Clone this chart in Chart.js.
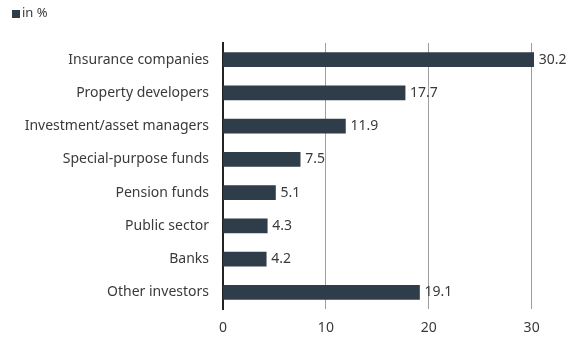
<!DOCTYPE html>
<html>
<head>
<meta charset="utf-8">
<script src="https://cdn.jsdelivr.net/npm/chart.js@4"></script>
<style>
  html, body { margin: 0; padding: 0; background: #fff; }
  #wrap { width: 570px; height: 339px; position: relative; }
</style>
</head>
<body>
<div id="wrap"><canvas id="chart"></canvas></div>
<script>
const categories = [
  "Insurance companies",
  "Property developers",
  "Investment/asset managers",
  "Special-purpose funds",
  "Pension funds",
  "Public sector",
  "Banks",
  "Other investors"
];
const shares = [30.2, 17.7, 11.9, 7.5, 5.1, 4.3, 4.2, 19.1];
const xTicks = [0, 10, 20, 30];
const seriesLabel = "in %";

const FONT = "'Noto Sans', sans-serif";
const BAR = "#2e3d49";
const TEXT = "#3a3a3a";

// value labels at the end of each bar
const valueLabels = {
  id: "valueLabels",
  afterDatasetsDraw(chart) {
    const { ctx } = chart;
    const meta = chart.getDatasetMeta(0);
    ctx.save();
    ctx.font = "14px " + FONT;
    ctx.fillStyle = TEXT;
    ctx.textBaseline = "middle";
    ctx.textAlign = "left";
    meta.data.forEach((bar, i) => {
      ctx.fillText(shares[i].toFixed(1), bar.x + 5, bar.y);
    });
    ctx.restore();
  }
};

// small legend in the top-left corner (square + series name)
const cornerLegend = {
  id: "cornerLegend",
  afterDraw(chart) {
    const { ctx } = chart;
    const ds = chart.data.datasets[0];
    ctx.save();
    ctx.fillStyle = ds.backgroundColor;
    ctx.fillRect(12, 10, 8, 8);
    ctx.font = "13px " + FONT;
    ctx.fillStyle = TEXT;
    ctx.textBaseline = "middle";
    ctx.fillText(ds.label, 22, 13);
    ctx.restore();
  }
};

new Chart(document.getElementById("chart"), {
  type: "bar",
  data: {
    labels: categories,
    datasets: [{
      label: seriesLabel,
      data: shares,
      backgroundColor: BAR,
      borderWidth: 0,
      barThickness: 14,
    }],
  },
  options: {
    indexAxis: "y",
    responsive: true,
    maintainAspectRatio: false,
    animation: false,
    layout: { padding: { left: 0, right: 25, top: 43, bottom: 0 } },
    plugins: {
      legend: { display: false },
      tooltip: { enabled: false },
    },
    scales: {
      x: {
        min: 0,
        max: 31.3,
        afterBuildTicks: (s) => { s.ticks = xTicks.map(v => ({ value: v })); },
        grid: { color: "#9e9e9e", lineWidth: 1, drawTicks: false },
        border: { display: false },
        ticks: { color: TEXT, padding: 11, font: { family: FONT, size: 14 } },
        afterFit: (s) => { s.height = 30; },
      },
      y: {
        grid: { display: false },
        border: { color: "#222", width: 2 },
        ticks: { color: TEXT, padding: 6, font: { family: FONT, size: 14 } },
        afterFit: (s) => { s.width = 223; },
      },
    },
  },
  plugins: [valueLabels, cornerLegend],
});
</script>
</body>
</html>
